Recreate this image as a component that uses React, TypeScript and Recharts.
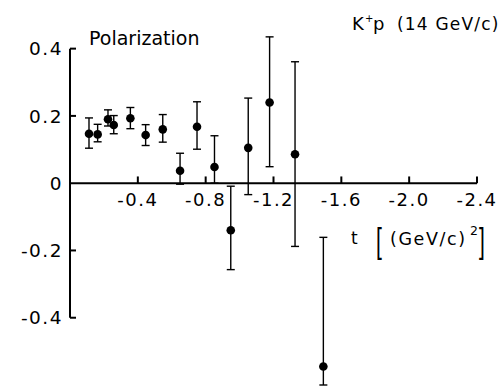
import React from 'react';
import { ScatterChart, Scatter, XAxis, YAxis, ZAxis, ErrorBar, ReferenceLine } from 'recharts';

// momentum transfer t [(GeV/c)^2]
const tValues = [-0.112, -0.163, -0.224, -0.258, -0.356, -0.446, -0.547, -0.649, -0.749, -0.852, -0.948, -1.051, -1.177, -1.327, -1.494];
// polarization
const polarization = [0.147, 0.145, 0.19, 0.173, 0.193, 0.143, 0.16, 0.037, 0.168, 0.048, -0.14, 0.105, 0.24, 0.086, -0.545];
// lower / upper error
const errLow = [0.043, 0.022, 0.02, 0.026, 0.031, 0.031, 0.038, 0.04, 0.067, 0.048, 0.117, 0.139, 0.191, 0.274, 0.055];
const errHigh = [0.047, 0.03, 0.028, 0.028, 0.032, 0.031, 0.044, 0.052, 0.074, 0.093, 0.131, 0.148, 0.195, 0.275, 0.384];

const xTicks = [-0.4, -0.8, -1.2, -1.6, -2.0, -2.4];
const xTickLabels = ['-0.4', '-0.8', '-1.2', '-1.6', '-2.0', '-2.4'];
const yTicks = [-0.4, -0.2, 0, 0.2, 0.4];
const yTickLabels = ['-0.4', '-0.2', '0', '0.2', '0.4'];

const data = tValues.map((t, i) => ({ t, p: polarization[i], err: [errLow[i], errHigh[i]] }));

const FONT = '"DejaVu Sans", sans-serif';

const YTick = (props: any) => {
  const { x, y, payload } = props;
  const i = yTicks.indexOf(payload.value);
  return (
    <g>
      {payload.value !== 0 && (
        <line x1={x} y1={y} x2={x + 6} y2={y} stroke="#000" strokeWidth={2} />
      )}
      <text x={x - 7} y={y} dy="0.36em" textAnchor="end" fontFamily={FONT} fontSize={18.5} letterSpacing={1.5} fill="#000">
        {yTickLabels[i]}
      </text>
    </g>
  );
};

export default function App() {
  return (
    <div style={{ position: 'absolute', left: 0, top: 0, width: 504, height: 387, background: '#fff' }}>
      <ScatterChart width={504} height={387} margin={{ top: 15, right: 27, bottom: 2, left: 0 }}>
        <XAxis type="number" dataKey="t" domain={[-2.4, 0]} reversed hide allowDataOverflow />
        <YAxis
          type="number"
          dataKey="p"
          domain={[-0.6, 0.5]}
          ticks={yTicks}
          interval={0}
          axisLine={false}
          tickLine={false}
          tickSize={0}
          tickMargin={0}
          width={70}
          tick={<YTick />}
          allowDataOverflow
        />
        <ZAxis range={[58, 58]} />
        <ReferenceLine ifOverflow="visible" segment={[{ x: 0, y: -0.4 }, { x: 0, y: 0.4 }]} stroke="#000" strokeWidth={2} />
        <ReferenceLine ifOverflow="visible" segment={[{ x: 0, y: 0 }, { x: -2.4, y: 0 }]} stroke="#000" strokeWidth={2} />
        {xTicks.map((v, i) => (
          <ReferenceLine
            key={v}
            ifOverflow="visible"
            segment={[{ x: v, y: 0 }, { x: v, y: 0.02 }]}
            stroke="#000"
            strokeWidth={2}
            label={{ value: xTickLabels[i], position: 'bottom', offset: 10, fill: '#000', fontSize: 18, fontFamily: FONT, letterSpacing: 1.5 }}
          />
        ))}
        <Scatter data={data} dataKey="p" fill="#000" shape="circle" isAnimationActive={false}>
          <ErrorBar dataKey="err" direction="y" width={4} stroke="#000" strokeWidth={1.4} isAnimationActive={false} />
        </Scatter>
        <text x={89} y={45} fontFamily={FONT} fontSize={19} fill="#000">Polarization</text>
        <text x={352} y={30} fontFamily={FONT} fontSize={18} fill="#000">K</text>
        <text x={365} y={22} fontFamily={FONT} fontSize={10} fill="#000">+</text>
        <text x={373} y={30} fontFamily={FONT} fontSize={18} fill="#000">p</text>
        <text x={397} y={30} fontFamily={FONT} fontSize={17} letterSpacing={1.2} fill="#000">(14 GeV/c)</text>
        <text x={351} y={244} fontFamily={FONT} fontSize={17} fill="#000">t</text>
        <text transform="translate(376 253) scale(1 1.65)" fontFamily='"Liberation Sans", sans-serif' fontSize={21} fill="#000">[</text>
        <text x={390} y={245} fontFamily={FONT} fontSize={17.5} letterSpacing={1.6} fill="#000">(GeV/c)</text>
        <text x={470} y={235} fontFamily={FONT} fontSize={12.5} fill="#000">2</text>
        <text transform="translate(479 253) scale(1 1.65)" fontFamily='"Liberation Sans", sans-serif' fontSize={21} fill="#000">]</text>
      </ScatterChart>
    </div>
  );
}
